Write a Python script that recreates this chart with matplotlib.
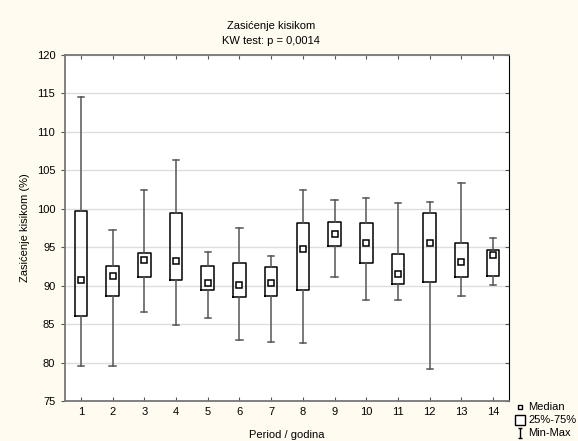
import matplotlib
matplotlib.use("Agg")
import matplotlib.pyplot as plt
from matplotlib.lines import Line2D
from matplotlib.path import Path

plt.rcParams['font.family'] = ['Liberation Sans', 'DejaVu Sans']

# values
periods = list(range(1, 15))
mins    = [79.5, 79.5, 86.6, 84.9, 85.8, 82.9, 82.7, 82.5, 91.1, 88.1, 88.2, 79.2, 88.6, 90.1]
q1      = [86.1, 88.6, 91.1, 90.7, 89.5, 88.5, 88.7, 89.4, 95.1, 93.0, 90.2, 90.5, 91.1, 91.3]
medians = [90.7, 91.3, 93.4, 93.2, 90.4, 90.1, 90.3, 94.8, 96.7, 95.5, 91.5, 95.6, 93.1, 94.0]
q3      = [99.7, 92.6, 94.3, 99.4, 92.5, 93.0, 92.4, 98.1, 98.3, 98.2, 94.1, 99.4, 95.6, 94.7]
maxs    = [114.5, 97.3, 102.4, 106.4, 94.4, 97.5, 93.9, 102.4, 101.2, 101.4, 100.7, 100.9, 103.4, 96.2]
yticks  = [75, 80, 85, 90, 95, 100, 105, 110, 115, 120]

bg = '#fffbf0'
fig = plt.figure(figsize=(5.78, 4.41), dpi=100, facecolor=bg)
ax = fig.add_axes([65/578, 1-401/441, 444/578, 346/441])
ax.set_facecolor('white')

stats = []
for i in range(len(periods)):
    stats.append({'med': medians[i], 'q1': q1[i], 'q3': q3[i],
                  'whislo': mins[i], 'whishi': maxs[i], 'fliers': []})

ax.bxp(stats, positions=periods, widths=0.4, capwidths=0.2, showfliers=False,
       boxprops=dict(color='black', lw=1.1),
       whiskerprops=dict(color='#555555', lw=1.1),
       capprops=dict(color='#555555', lw=1.1),
       medianprops=dict(visible=False), zorder=3)
ax.plot(periods, medians, ls='none', marker='s', ms=4.3, mfc='white', mec='black',
        mew=1.1, zorder=4)

ax.set_xlim(0.5, 14.5)
ax.set_ylim(75, 120)
ax.set_xticks(periods)
ax.set_xticklabels([str(p) for p in periods])
ax.set_yticks(yticks)
ax.yaxis.grid(True, color='#dedede', lw=1)
ax.set_axisbelow(True)

ax.tick_params(axis='both', labelsize=8, length=3, color='#555555', pad=4)
ax.tick_params(axis='y', direction='out', right=True)
ax.tick_params(axis='x', direction='in', top=True)
for t in ax.yaxis.get_major_ticks():
    t.tick2line.set_marker(0)  # right-side ticks point inward
for s in ['left', 'bottom', 'top']:
    ax.spines[s].set_color('#777777')
    ax.spines[s].set_linewidth(1.3)
ax.spines['right'].set_color('black')

ax.set_ylabel('Zasićenje kisikom (%)', fontsize=8, labelpad=5)
ax.set_xlabel('Period / godina', fontsize=8, labelpad=9.5)

fig.text(271/578, 1-26/441, 'Zasićenje kisikom', ha='center', va='center', fontsize=8)
fig.text(271/578, 1-41/441, 'KW test: p = 0,0014', ha='center', va='center', fontsize=8)

# legend drawn by hand outside the axes
minmax = Path([(-0.5, 1), (0.5, 1), (0, 1), (0, -1), (-0.5, -1), (0.5, -1)],
              [Path.MOVETO, Path.LINETO, Path.MOVETO, Path.LINETO, Path.MOVETO, Path.LINETO])
leg_rows = [('Median', 's', 3.2, 407), ('25%-75%', 's', 6.5, 420), ('Min-Max', minmax, 7, 433)]
for label, mk, size, y in leg_rows:
    fig.add_artist(Line2D([520/578], [1-y/441], transform=fig.transFigure, ls='none',
                          marker=mk, ms=size, mfc='white', mec='black', mew=1))
    fig.text(528/578, 1-y/441, label, ha='left', va='center', fontsize=8)

fig.savefig('out.png', dpi=100, facecolor=bg)
